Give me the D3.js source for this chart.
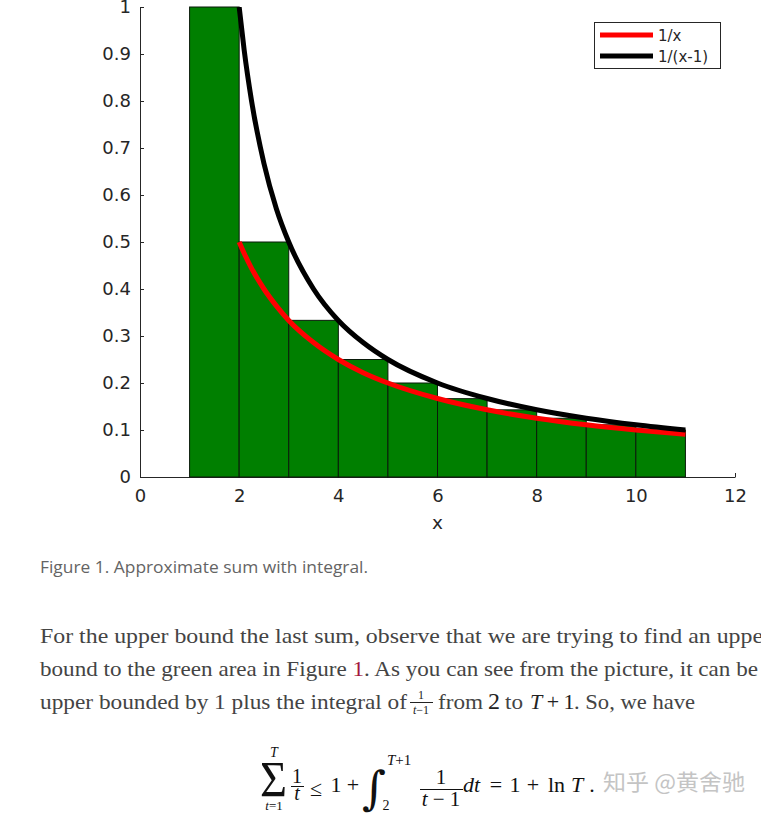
<!DOCTYPE html>
<html><head><meta charset="utf-8">
<script src="https://cdn.jsdelivr.net/npm/d3@7"></script>
<style>body{margin:0;background:#fff;overflow:hidden}svg{display:block}</style>
</head><body><svg id="c" width="761" height="813"></svg>
<script>
// ---- data ----
const barStarts = [1,2,3,4,5,6,7,8,9,10];
const barHeights = [1,0.5,0.3333,0.25,0.2,0.1667,0.1429,0.125,0.1111,0.1];
const curveX = [2,2.1,2.25,2.5,2.75,3,3.5,4,4.5,5,6,7,8,9,10,11];
const redY = [0.5,0.476,0.444,0.4,0.364,0.333,0.286,0.25,0.222,0.2,0.167,0.143,0.125,0.111,0.1,0.0909];
const blackY = [1,0.909,0.8,0.667,0.571,0.5,0.4,0.333,0.286,0.25,0.2,0.167,0.143,0.125,0.111,0.1];
const xTicks = [0,2,4,6,8,10,12];
const yTicks = [0,0.1,0.2,0.3,0.4,0.5,0.6,0.7,0.8,0.9,1];
const seriesNames = ["1/x","1/(x-1)"];
const seriesColors = ["#ff0000","#000000"];
const xLabel = "x";

const svg = d3.select("#c");
const x = d3.scaleLinear().domain([0,12]).range([140,735]);
const y = d3.scaleLinear().domain([0,1]).range([477,7]);
const axisColor = "#262626";

svg.append("clipPath").attr("id","plot").append("rect")
  .attr("x",140).attr("y",7).attr("width",595).attr("height",470);

// axes
const gx = svg.append("g").attr("transform","translate(0,477)")
  .call(d3.axisBottom(x).tickValues(xTicks).tickFormat(d3.format("d")).tickSizeInner(-4).tickSizeOuter(0).tickPadding(12));
const gy = svg.append("g").attr("transform","translate(140,0)")
  .call(d3.axisLeft(y).tickValues(yTicks).tickFormat(d=>d===0?"0":d===1?"1":d3.format(".1f")(d)).tickSizeInner(-4).tickSizeOuter(0).tickPadding(9));
[gx,gy].forEach(g=>{
  g.selectAll("path,line").attr("stroke",axisColor).attr("stroke-width",1);
  g.selectAll("text").attr("fill",axisColor).style("font-family","DejaVu Sans").style("font-size","18px");
});
svg.append("text").attr("x",x(6)).attr("y",529).attr("text-anchor","middle")
  .attr("fill",axisColor).style("font-family","DejaVu Sans").style("font-size","18.5px").text(xLabel);

// bars
svg.append("g").selectAll("rect").data(barStarts).join("rect")
  .attr("x",d=>x(d)).attr("width",d=>x(d+1)-x(d))
  .attr("y",(d,i)=>y(barHeights[i])).attr("height",(d,i)=>y(0)-y(barHeights[i]))
  .attr("fill","#007f00").attr("stroke","#0a1a0a").attr("stroke-width",1);

// curves
const line = d3.line().x(d=>x(d[0])).y(d=>y(d[1])).curve(d3.curveMonotoneX);
const series = [redY, blackY];
svg.append("g").attr("clip-path","url(#plot)").selectAll("path").data(series).join("path")
  .attr("d",ys=>line(curveX.map((v,i)=>[v,ys[i]])))
  .attr("fill","none").attr("stroke",(d,i)=>seriesColors[i]).attr("stroke-width",5);

// legend
const lg = svg.append("g");
lg.append("rect").attr("x",594.5).attr("y",22.5).attr("width",126).attr("height",46)
  .attr("fill","#fff").attr("stroke",axisColor).attr("stroke-width",1);
seriesNames.forEach((n,i)=>{
  const yy = 35 + i*21;
  lg.append("line").attr("x1",600).attr("x2",653).attr("y1",yy).attr("y2",yy)
    .attr("stroke",seriesColors[i]).attr("stroke-width",5);
  lg.append("text").attr("x",658).attr("y",yy+5.5).attr("fill",axisColor)
    .style("font-family","DejaVu Sans").style("font-size","15px").text(n);
});

// caption
svg.append("text").attr("x",40).attr("y",573).attr("fill","#646464")
  .attr("textLength",328).attr("lengthAdjust","spacingAndGlyphs")
  .style("font-family","Open Sans").style("font-size","16px")
  .text("Figure 1. Approximate sum with integral.");

// paragraph
const serif = "Liberation Serif";
const pc = "#444";
function t(xp,yp,str,opts={}){
  const e = svg.append("text").attr("x",xp).attr("y",yp).attr("fill",opts.fill||pc)
    .style("font-family",opts.font||serif).style("font-size",(opts.size||22)+"px")
    .style("font-style",opts.italic?"italic":"normal").text(str);
  if(opts.anchor) e.attr("text-anchor",opts.anchor);
  if(opts.len) e.attr("textLength",opts.len).attr("lengthAdjust","spacingAndGlyphs");
  return e;
}
t(40,643,"For the upper bound the last sum, observe that we are trying to find an upper",{len:731});
const l2 = svg.append("text").attr("x",40).attr("y",676).attr("fill",pc)
  .attr("textLength",718).attr("lengthAdjust","spacingAndGlyphs")
  .style("font-family",serif).style("font-size","22px");
l2.append("tspan").text("bound to the green area in Figure ");
l2.append("tspan").attr("fill","#a3173d").text("1");
l2.append("tspan").text(". As you can see from the picture, it can be");
t(40,709,"upper bounded by 1 plus the integral of",{len:367});
t(421,699,"1",{anchor:"middle",size:12,fill:"#222"});
svg.append("line").attr("x1",410).attr("x2",433).attr("y1",702.5).attr("y2",702.5).attr("stroke","#222").attr("stroke-width",1);
const den = svg.append("text").attr("x",421).attr("y",714).attr("text-anchor","middle").attr("fill","#222")
  .style("font-family",serif).style("font-size","12px");
den.append("tspan").style("font-style","italic").text("t");
den.append("tspan").text("−1");
t(438,709,"from",{len:45});
t(494,709,"2",{anchor:"middle",size:24,fill:"#222"});
t(505,709,"to",{len:18});
t(536,709,"T",{anchor:"middle",size:22,italic:true,fill:"#222"});
t(553,709,"+",{anchor:"middle",size:22,fill:"#222"});
t(569,709,"1",{anchor:"middle",size:22,fill:"#222"});
t(574,709,". So, we have",{len:121});

// display formula
const mc = "#111";
t(260,796,"Σ",{size:50,fill:mc,len:27});
t(274,757,"T",{anchor:"middle",size:14,italic:true,fill:mc});
const sub = svg.append("text").attr("x",274).attr("y",810).attr("text-anchor","middle").attr("fill",mc)
  .style("font-family",serif).style("font-size","13px");
sub.append("tspan").style("font-style","italic").text("t");
sub.append("tspan").text("=1");
t(297,783,"1",{anchor:"middle",size:20,fill:mc});
svg.append("line").attr("x1",291).attr("x2",304).attr("y1",786.5).attr("y2",786.5).attr("stroke",mc).attr("stroke-width",1);
t(297,800,"t",{anchor:"middle",size:20,italic:true,fill:mc});
t(316,796,"≤",{anchor:"middle",size:22,fill:mc});
t(336,792,"1",{anchor:"middle",size:22,fill:mc});
t(353,792,"+",{anchor:"middle",size:22,fill:mc});
t(374,804,"∫",{anchor:"middle",size:46,fill:mc,font:"DejaVu Serif"});
const sup = svg.append("text").attr("x",387).attr("y",765).attr("fill",mc)
  .style("font-family",serif).style("font-size","15px");
sup.append("tspan").style("font-style","italic").text("T");
sup.append("tspan").text("+1");
t(386,810,"2",{anchor:"middle",size:14,fill:mc});
t(441,784,"1",{anchor:"middle",size:21,fill:mc});
svg.append("line").attr("x1",420).attr("x2",463).attr("y1",789.5).attr("y2",789.5).attr("stroke",mc).attr("stroke-width",1);
const den2 = svg.append("text").attr("x",441).attr("y",806).attr("text-anchor","middle").attr("fill",mc)
  .style("font-family",serif).style("font-size","21px");
den2.append("tspan").style("font-style","italic").text("t");
den2.append("tspan").text(" − 1");
t(463,792,"dt",{size:22,italic:true,fill:mc});
t(496,792,"=",{anchor:"middle",size:22,fill:mc});
t(515,792,"1",{anchor:"middle",size:22,fill:mc});
t(533,792,"+",{anchor:"middle",size:22,fill:mc});
t(548,792,"ln",{size:22,fill:mc});
t(577,792,"T",{anchor:"middle",size:22,italic:true,fill:mc});
t(592,792,".",{anchor:"middle",size:22,fill:mc});
t(603,790,"知乎 @黄舍驰",{size:22,fill:"#c4c4c4",font:"Noto Sans CJK SC",len:142});
</script></body></html>
